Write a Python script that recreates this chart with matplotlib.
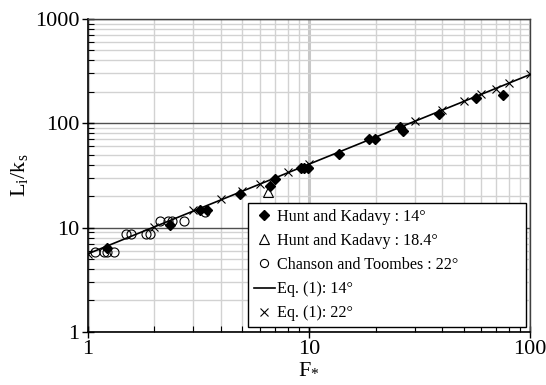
import matplotlib
matplotlib.use("Agg")
import matplotlib.pyplot as plt
from matplotlib.ticker import LogLocator, NullFormatter, FixedLocator

plt.rcParams['font.family'] = ['Liberation Serif', 'DejaVu Serif']
plt.rcParams['mathtext.fontset'] = 'custom'
plt.rcParams['mathtext.rm'] = 'Liberation Serif'
plt.rcParams['mathtext.it'] = 'Liberation Serif'

# Hunt and Kadavy : 14 deg
hk14_F = [1.22, 2.35, 3.2, 3.47, 4.85, 6.63, 7.05, 9.2, 9.5, 9.86, 13.6, 18.6, 19.8, 25.8, 26.5, 38.6, 56.7, 75.4]
hk14_L = [6.35, 10.5, 14.8, 14.6, 21.0, 25.1, 29.5, 37.4, 37.4, 37.4, 50.6, 70.4, 71.3, 91.8, 84.0, 122, 176, 188]
# Hunt and Kadavy : 18.4 deg
hk18_F = [6.53]
hk18_L = [22.1]
# Chanson and Toombes : 22 deg
ct_F = [1.075, 1.18, 1.22, 1.31, 1.49, 1.57, 1.83, 1.90, 2.12, 2.30, 2.40, 2.73, 3.37]
ct_L = [5.8, 5.8, 5.8, 5.8, 8.63, 8.63, 8.63, 8.63, 11.6, 11.6, 11.6, 11.6, 14.0]
# Eq. (1): 14 deg
eq14_F = [1.0, 100.0]
eq14_L = [5.6, 293.0]
# Eq. (1): 22 deg
eq22_F = [1, 2, 3, 4, 5, 6, 8, 10, 30, 40, 50, 60, 70, 80, 100]
eq22_L = [5.6, 10.2, 14.6, 18.7, 22.3, 26.4, 33.7, 40.8, 104, 134, 163, 190, 215, 242, 293]

fig = plt.figure(figsize=(5.46, 3.85), dpi=100)
ax = fig.add_axes([0.161, 0.138, 0.810, 0.813])
ax.set_xscale('log')
ax.set_yscale('log')
ax.set_xlim(1, 100)
ax.set_ylim(1, 1000)

# grid
ax.set_axisbelow(True)
ax.grid(which='minor', axis='both', color='#d2d2d2', linewidth=1.0)
ax.grid(which='major', axis='x', color='#c8c8c8', linewidth=2.2)
ax.grid(which='major', axis='y', color='#505050', linewidth=1.0)

ax.plot(eq14_F, eq14_L, color='black', linewidth=1.2, label='Eq. (1): 14°', zorder=3)
ax.plot(eq22_F, eq22_L, linestyle='none', marker='x', color='black', markersize=6,
        markeredgewidth=0.8, label='Eq. (1): 22°', zorder=3)
ax.plot(ct_F, ct_L, linestyle='none', marker='o', markerfacecolor='none',
        markeredgecolor='black', markersize=6.5, markeredgewidth=0.8,
        label='Chanson and Toombes : 22°', zorder=4)
ax.plot(hk18_F, hk18_L, linestyle='none', marker='^', markerfacecolor='none',
        markeredgecolor='black', markersize=7.5, markeredgewidth=0.8,
        label='Hunt and Kadavy : 18.4°', zorder=4)
ax.plot(hk14_F, hk14_L, linestyle='none', marker='D', color='black', markersize=5.5,
        label='Hunt and Kadavy : 14°', zorder=5)

ax.xaxis.set_major_locator(FixedLocator([1, 10, 100]))
ax.yaxis.set_major_locator(FixedLocator([1, 10, 100, 1000]))
ax.xaxis.set_minor_locator(LogLocator(base=10, subs=range(2, 10)))
ax.yaxis.set_minor_locator(LogLocator(base=10, subs=range(2, 10)))
ax.xaxis.set_minor_formatter(NullFormatter())
ax.yaxis.set_minor_formatter(NullFormatter())
ax.set_xticklabels(['1', '10', '100'])
ax.set_yticklabels(['1', '10', '100', '1000'])
ax.tick_params(which='major', direction='inout', length=8, width=1, labelsize=16, pad=2)
ax.tick_params(which='minor', direction='in', length=4, width=0.8)

for s in ['left', 'bottom']:
    ax.spines[s].set_color('black')
    ax.spines[s].set_linewidth(1.2)
for s in ['top', 'right']:
    ax.spines[s].set_color('#404040')
    ax.spines[s].set_linewidth(1.0)

ax.set_xlabel('F$_{*}$', fontsize=16, labelpad=0)
ax.set_ylabel('L$_{\\mathrm{i}}$/k$_{\\mathrm{s}}$', fontsize=16, labelpad=4)

handles, labels = ax.get_legend_handles_labels()
order = [4, 3, 2, 0, 1]
leg = ax.legend([handles[i] for i in order], [labels[i] for i in order],
                loc='lower left', bbox_to_anchor=(0.362, 0.016, 0.629, 0.396),
                mode='expand', fontsize=11.6,
                frameon=True, fancybox=False, framealpha=1, edgecolor='black',
                handlelength=1.3, handletextpad=0.12, labelspacing=0.5,
                borderpad=0.35, borderaxespad=0.0, markerscale=0.9)
leg.get_frame().set_linewidth(1.0)

fig.savefig('out.png', dpi=100)
